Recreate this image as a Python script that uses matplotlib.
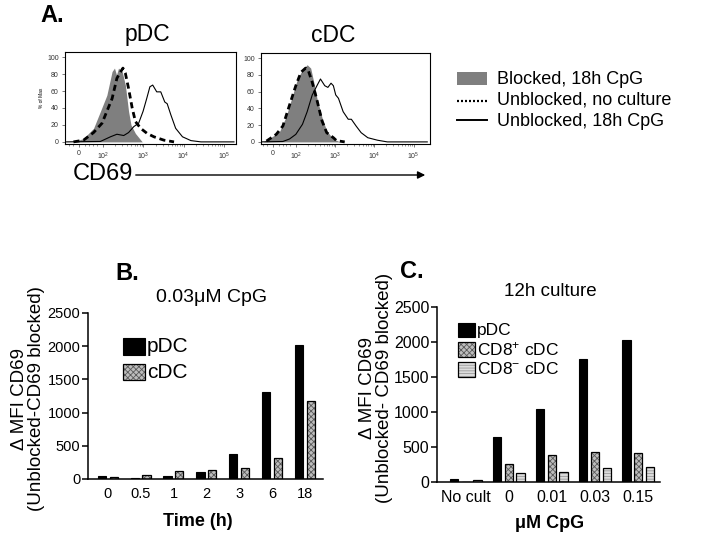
import matplotlib
matplotlib.use('Agg')
import matplotlib.pyplot as plt
import numpy as np
from matplotlib.patches import Rectangle

plt.rcParams['font.family'] = ['Liberation Sans', 'DejaVu Sans']
plt.rcParams['mathtext.fontset'] = 'custom'
plt.rcParams['mathtext.rm'] = 'Liberation Sans'
plt.rcParams['mathtext.it'] = 'Liberation Sans:italic'
plt.rcParams['mathtext.bf'] = 'Liberation Sans:bold'
plt.rcParams['hatch.linewidth'] = 0.6

# ---------------- Panel A data (x: log10 CD69, y: % of max) ----------------
pdc_blk_x = [1.26, 1.51, 1.76, 1.93, 2.09, 2.22, 2.28, 2.33, 2.38, 2.47, 2.55, 2.63, 2.69, 2.80, 2.97]
pdc_blk_y = [0, 4, 16, 36, 55, 83, 87, 79, 87, 83, 67, 36, 20, 10, 0]
pdc_unc_x = [1.26, 1.51, 1.76, 1.97, 2.09, 2.22, 2.34, 2.41, 2.49, 2.55, 2.63, 2.72, 2.80, 2.93, 3.09, 3.26, 3.51, 3.76]
pdc_unc_y = [0, 2, 11, 22, 36, 51, 75, 81, 87, 81, 63, 40, 24, 16, 10, 6, 2, 0]
pdc_cpg_x = [1.09, 1.93, 2.18, 2.34, 2.51, 2.63, 2.76, 2.88, 2.99, 3.08, 3.16, 3.23, 3.33, 3.43, 3.53, 3.59, 3.68, 3.80, 3.97, 4.18, 4.43, 5.25]
pdc_cpg_y = [0, 0.5, 6, 9, 7.5, 11, 18, 22, 36, 51, 65, 67, 59, 59, 47, 45, 32, 16, 6, 1.5, 0, 0]

cdc_blk_x = [1.16, 1.41, 1.58, 1.74, 1.91, 2.03, 2.16, 2.28, 2.37, 2.45, 2.53, 2.66, 2.78, 2.95, 3.12]
cdc_blk_y = [0, 7, 13, 30, 56, 75, 86, 92, 88, 71, 52, 29, 13, 3.5, 0]
cdc_unc_x = [1.24, 1.49, 1.66, 1.83, 1.99, 2.12, 2.24, 2.31, 2.41, 2.53, 2.66, 2.78, 2.95, 3.03, 3.24]
cdc_unc_y = [1, 9, 19, 44, 67, 83, 88, 85, 71, 50, 25, 11, 5, 1.5, 0]
cdc_cpg_x = [1.08, 1.66, 1.83, 1.99, 2.16, 2.28, 2.41, 2.53, 2.62, 2.73, 2.81, 2.89, 2.95, 3.01, 3.08, 3.20, 3.33, 3.41, 3.53, 3.66, 3.83, 4.08, 4.33, 5.35]
cdc_cpg_y = [0, 0.5, 3.5, 9, 21, 36, 56, 67, 75, 67, 65, 70, 67, 56, 52, 36, 27, 27, 19, 11, 5, 2, 0, 0]

hist_xticks = [1.4, 2, 3, 4, 5]
hist_xticklabels = ['0', '$10^2$', '$10^3$', '$10^4$', '$10^5$']
hist_yticks = [0, 20, 40, 60, 80, 100]

# ---------------- Panel B data ----------------
b_times = ['0', '0.5', '1', '2', '3', '6', '18']
b_pdc = [50, 10, 50, 110, 370, 1310, 2020]
b_cdc = [25, 60, 120, 140, 170, 310, 1170]

# ---------------- Panel C data ----------------
c_conds = ['No cult', '0', '0.01', '0.03', '0.15']
c_pdc = [40, 640, 1050, 1760, 2030]
c_cd8p = [0, 260, 380, 430, 410]
c_cd8n = [25, 130, 140, 200, 220]

W, H = 704, 551
fig = plt.figure(figsize=(W / 100, H / 100), dpi=100)


def px_axes(l, t, r, b):
    return fig.add_axes([l / W, 1 - b / H, (r - l) / W, (b - t) / H])


CHECK_FC, CHECK_HC = '#bdbdbd', '#5a5a5a'
STRIPE_FC, STRIPE_HC = '#dcdcdc', '#9a9a9a'


def hist_panel(ax, bx, by, ux, uy, cx, cy, xlim, show_ylabel):
    ax.fill_between(bx, by, 0, color='#7f7f7f', lw=0, zorder=1)
    ax.plot(ux, uy, color='black', lw=2.0, dashes=(2.2, 1.4), zorder=3)
    ax.plot(cx, cy, color='black', lw=0.8, zorder=2)
    ax.set_xlim(*xlim)
    ax.set_ylim(-2.5, 106)
    ax.set_xticks(hist_xticks)
    ax.set_xticklabels(hist_xticklabels)
    minors = [1.15, 1.25, 1.55, 1.65, 1.75, 1.85]
    for d in (2, 3, 4):
        minors += [np.log10(k) + d for k in range(2, 10)]
    ax.set_xticks(minors, minor=True)
    ax.set_yticks(hist_yticks)
    ax.tick_params(axis='both', which='major', labelsize=5, length=2.5, width=0.5, pad=2,
                   color='#444444', labelcolor='#333333')
    ax.tick_params(axis='x', which='minor', length=1.5, width=0.4, color='#444444')
    for s in ax.spines.values():
        s.set_linewidth(0.8)
    if show_ylabel:
        ax.set_ylabel('% of Max', fontsize=3.5, labelpad=2)


axA1 = px_axes(65, 52, 236, 144)
hist_panel(axA1, pdc_blk_x, pdc_blk_y, pdc_unc_x, pdc_unc_y, pdc_cpg_x, pdc_cpg_y, (1.05, 5.3), True)
axA2 = px_axes(261, 53, 430, 144)
hist_panel(axA2, cdc_blk_x, cdc_blk_y, cdc_unc_x, cdc_unc_y, cdc_cpg_x, cdc_cpg_y, (1.1, 5.42), False)

# ---------------- Panel B ----------------
axB = px_axes(88, 313, 323, 479)
xb = np.arange(len(b_times))
wB, oB = 0.25, 0.18
axB.bar(xb - oB, b_pdc, wB, color='black', edgecolor='black', lw=0.8, zorder=2)
axB.bar(xb + oB, b_cdc, wB, color=CHECK_FC, hatch='xxxxxx', edgecolor=CHECK_HC, lw=0, zorder=2)
axB.bar(xb + oB, b_cdc, wB, fill=False, edgecolor='black', lw=0.9, zorder=3)
axB.set_xlim(-0.6, len(b_times) - 1 + 0.55)
axB.set_ylim(0, 2500)
axB.set_yticks([0, 500, 1000, 1500, 2000, 2500])
axB.set_xticks(xb)
axB.set_xticklabels(b_times)

# ---------------- Panel C ----------------
axC = px_axes(437, 307, 660, 482)
xc = np.arange(len(c_conds))
wC, oC = 0.19, 0.27
axC.bar(xc - oC, c_pdc, wC, color='black', edgecolor='black', lw=0.8, zorder=2)
axC.bar(xc, c_cd8p, wC, color=CHECK_FC, hatch='xxxxxx', edgecolor=CHECK_HC, lw=0, zorder=2)
axC.bar(xc, c_cd8p, wC, fill=False, edgecolor='black', lw=0.9, zorder=3)
axC.bar(xc + oC, c_cd8n, wC, color=STRIPE_FC, hatch='------', edgecolor=STRIPE_HC, lw=0, zorder=2)
axC.bar(xc + oC, c_cd8n, wC, fill=False, edgecolor='black', lw=0.9, zorder=3)
axC.set_xlim(-0.67, len(c_conds) - 1 + 0.51)
axC.set_ylim(0, 2500)
axC.set_yticks([0, 500, 1000, 1500, 2000, 2500])
axC.set_xticks(xc)
axC.set_xticklabels(c_conds)

for ax, fs in ((axB, 10.5), (axC, 11.5)):
    for s in ('top', 'right'):
        ax.spines[s].set_visible(False)
    for s in ('left', 'bottom'):
        ax.spines[s].set_linewidth(1.1)
    ax.tick_params(axis='y', length=4, width=1.1, labelsize=fs, pad=1.5)
    ax.tick_params(axis='x', length=0, labelsize=fs, pad=6)

# ---------------- Overlay (annotations in pixel space) ----------------
ov = fig.add_axes([0, 0, 1, 1], zorder=10)
ov.set_xlim(0, W)
ov.set_ylim(H, 0)
ov.axis('off')
ov.patch.set_alpha(0)

# Panel letters
ov.text(52, 15, 'A.', fontsize=17, fontweight='bold', ha='center', va='center')
ov.text(127, 274, 'B.', fontsize=17, fontweight='bold', ha='center', va='center')
ov.text(412, 272, 'C.', fontsize=17, fontweight='bold', ha='center', va='center')

# Panel A titles and axis label
ov.text(147, 35, 'pDC', fontsize=16.5, ha='center', va='center')
ov.text(333, 35, 'cDC', fontsize=16.5, ha='center', va='center')
ov.text(73, 174, 'CD69', fontsize=17, ha='left', va='center')
ov.annotate('', xy=(428, 175), xytext=(133, 175),
            arrowprops=dict(arrowstyle='-|>', lw=1.0, color='black', mutation_scale=11))

# Panel A legend
ov.add_patch(Rectangle((457, 72), 30, 13, facecolor='#7f7f7f', edgecolor='none'))
ov.plot([457, 487], [101, 101], color='black', lw=1.6, dashes=(0.9, 0.9))
ov.plot([457, 487], [120, 120], color='black', lw=1.4)
ov.text(497, 79, 'Blocked, 18h CpG', fontsize=13, ha='left', va='center')
ov.text(497, 100, 'Unblocked, no culture', fontsize=13, ha='left', va='center')
ov.text(497, 121, 'Unblocked, 18h CpG', fontsize=13, ha='left', va='center')

# Panel B annotations
ov.text(212, 297, '0.03\u03bcM CpG', fontsize=14, ha='center', va='center')
ov.text(28, 399, '\u0394 MFI CD69\n(Unblocked-CD69 blocked)', fontsize=13.5, rotation=90,
        ha='center', va='center', multialignment='center', linespacing=1.05)
ov.text(198, 521, 'Time (h)', fontsize=13, fontweight='bold', ha='center', va='center')
ov.add_patch(Rectangle((123, 338), 22, 17, facecolor='black', edgecolor='black', lw=0.8))
ov.add_patch(Rectangle((123, 364), 22, 16, facecolor=CHECK_FC, hatch='xxxxxx', edgecolor=CHECK_HC, lw=0))
ov.add_patch(Rectangle((123, 364), 22, 16, fill=False, edgecolor='black', lw=0.9))
ov.text(147, 347, 'pDC', fontsize=15, ha='left', va='center')
ov.text(147, 373, 'cDC', fontsize=15, ha='left', va='center')

# Panel C annotations
ov.text(550, 292, '12h culture', fontsize=13.5, ha='center', va='center')
ov.text(376, 388, '\u0394 MFI CD69\n(Unblocked- CD69 blocked)', fontsize=13.5, rotation=90,
        ha='center', va='center', multialignment='center', linespacing=1.05)
ov.text(550, 523, '\u03bcM CpG', fontsize=13, fontweight='bold', ha='center', va='center')
ov.add_patch(Rectangle((458, 323), 17, 14, facecolor='black', edgecolor='black', lw=0.8))
ov.add_patch(Rectangle((458, 342), 17, 15, facecolor=CHECK_FC, hatch='xxxxxx', edgecolor=CHECK_HC, lw=0))
ov.add_patch(Rectangle((458, 342), 17, 15, fill=False, edgecolor='black', lw=0.9))
ov.add_patch(Rectangle((458, 362), 17, 15, facecolor=STRIPE_FC, hatch='------', edgecolor=STRIPE_HC, lw=0))
ov.add_patch(Rectangle((458, 362), 17, 15, fill=False, edgecolor='black', lw=0.9))
ov.text(477, 330, 'pDC', fontsize=12.5, ha='left', va='center')
ov.text(477, 349, 'CD8$^{+}$ cDC', fontsize=12.5, ha='left', va='center')
ov.text(477, 369, 'CD8$^{-}$ cDC', fontsize=12.5, ha='left', va='center')

fig.savefig('out.png', dpi=100)
